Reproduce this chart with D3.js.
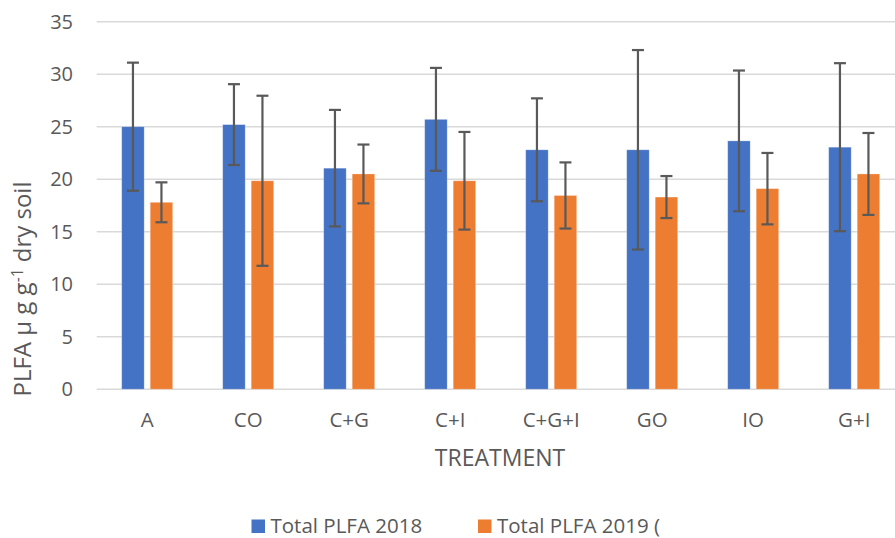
<!DOCTYPE html>
<html>
<head>
<meta charset="utf-8">
<script src="https://cdn.jsdelivr.net/npm/d3@7"></script>
<style>
  html, body { margin: 0; padding: 0; background: #fff; }
  svg { display: block; font-family: "Open Sans", "Noto Sans", sans-serif; }
</style>
</head>
<body>
<svg id="chart" width="895" height="538"></svg>
<script>
// Treatments on the x axis
const categories = ["A", "CO", "C+G", "C+I", "C+G+I", "GO", "IO", "G+I"];
// Total PLFA (µg g-1 dry soil) and error bar half-widths per year
const values2018 = [25.0, 25.2, 21.05, 25.7, 22.8, 22.8, 23.65, 23.05];
const errors2018 = [6.1, 3.85, 5.55, 4.9, 4.9, 9.5, 6.7, 8.0];
const values2019 = [17.8, 19.85, 20.5, 19.85, 18.45, 18.3, 19.1, 20.5];
const errors2019 = [1.9, 8.1, 2.8, 4.65, 3.15, 2.0, 3.4, 3.9];
const seriesNames = ["Total PLFA 2018", "Total PLFA 2019 ("];
const yTicks = [0, 5, 10, 15, 20, 25, 30, 35];

const colors = ["#4472C4", "#ED7D31"];
const textColor = "#595959";
const gridColor = "#d9d9d9";

const svg = d3.select("#chart");
const plot = { left: 96.7, right: 904.7, top: 21.7, bottom: 389.2 };

const x = d3.scaleBand().domain(categories).range([plot.left, plot.right]).padding(0);
const sub = d3.scaleBand().domain([0, 1])
  .range([0, x.bandwidth()])
  .paddingInner(0.2105)
  .paddingOuter(0.877);
const y = d3.scaleLinear().domain([0, 35]).range([plot.bottom, plot.top]);

// Horizontal gridlines
svg.append("g")
  .selectAll("line")
  .data(yTicks)
  .join("line")
  .attr("x1", plot.left)
  .attr("x2", 895)
  .attr("y1", d => y(d))
  .attr("y2", d => y(d))
  .attr("stroke", gridColor)
  .attr("stroke-width", 1.4);

// Y tick labels
svg.append("g")
  .selectAll("text")
  .data(yTicks)
  .join("text")
  .attr("x", 73)
  .attr("y", d => y(d))
  .attr("dy", "0.35em")
  .attr("text-anchor", "end")
  .attr("font-size", 20)
  .attr("fill", textColor)
  .text(d => d);

// Build series rows
const series = [
  { values: values2018, errors: errors2018 },
  { values: values2019, errors: errors2019 }
];
const rows = [];
categories.forEach((c, i) => {
  series.forEach((s, k) => {
    rows.push({ cat: c, k, v: s.values[i], e: s.errors[i] });
  });
});

// Bars
svg.append("g")
  .selectAll("rect")
  .data(rows)
  .join("rect")
  .attr("x", d => x(d.cat) + sub(d.k))
  .attr("width", sub.bandwidth())
  .attr("y", d => y(d.v))
  .attr("height", d => y(0) - y(d.v))
  .attr("fill", d => colors[d.k])
  .attr("stroke", "#ffffff")
  .attr("stroke-opacity", 0.35)
  .attr("stroke-width", 0.8);

// Error bars
const capHalf = 6;
const eb = svg.append("g")
  .attr("stroke", "#595959")
  .attr("stroke-width", 2.2)
  .selectAll("g")
  .data(rows)
  .join("g")
  .attr("transform", d => `translate(${x(d.cat) + sub(d.k) + sub.bandwidth() / 2},0)`);
eb.append("line")
  .attr("x1", 0).attr("x2", 0)
  .attr("y1", d => y(d.v + d.e))
  .attr("y2", d => y(d.v - d.e));
eb.append("line")
  .attr("x1", -capHalf).attr("x2", capHalf)
  .attr("y1", d => y(d.v + d.e)).attr("y2", d => y(d.v + d.e));
eb.append("line")
  .attr("x1", -capHalf).attr("x2", capHalf)
  .attr("y1", d => y(d.v - d.e)).attr("y2", d => y(d.v - d.e));

// X category labels
svg.append("g")
  .selectAll("text")
  .data(categories)
  .join("text")
  .attr("x", d => x(d) + x.bandwidth() / 2)
  .attr("y", 427)
  .attr("text-anchor", "middle")
  .attr("font-size", 20.5)
  .attr("fill", textColor)
  .text(d => d);

// Axis titles
svg.append("text")
  .attr("x", 500)
  .attr("y", 466)
  .attr("text-anchor", "middle")
  .attr("font-size", 23)
  .attr("fill", textColor)
  .text("TREATMENT");

const yTitle = svg.append("text")
  .attr("transform", "translate(31,289) rotate(-90)")
  .attr("text-anchor", "middle")
  .attr("font-size", 24)
  .attr("fill", textColor);
yTitle.append("tspan").text("PLFA µ g g");
yTitle.append("tspan").attr("dy", -8).attr("font-size", 15.5).text("-1");
yTitle.append("tspan").attr("dy", 8).text(" dry soil");

// Legend (clipped on the right)
svg.append("defs").append("clipPath").attr("id", "legendClip")
  .append("rect").attr("x", 0).attr("y", 480).attr("width", 662).attr("height", 60);
const legendX = [251.5, 478];
const legend = svg.append("g").attr("clip-path", "url(#legendClip)")
  .selectAll("g")
  .data(seriesNames)
  .join("g")
  .attr("transform", (d, i) => `translate(${legendX[i]},0)`);
legend.append("rect")
  .attr("x", 0).attr("y", 519.5)
  .attr("width", 13.5).attr("height", 13.5)
  .attr("fill", (d, i) => colors[i]);
legend.append("text")
  .attr("x", 19)
  .attr("y", 532.5)
  .attr("font-size", 20.5)
  .attr("fill", textColor)
  .text(d => d);
</script>
</body>
</html>
